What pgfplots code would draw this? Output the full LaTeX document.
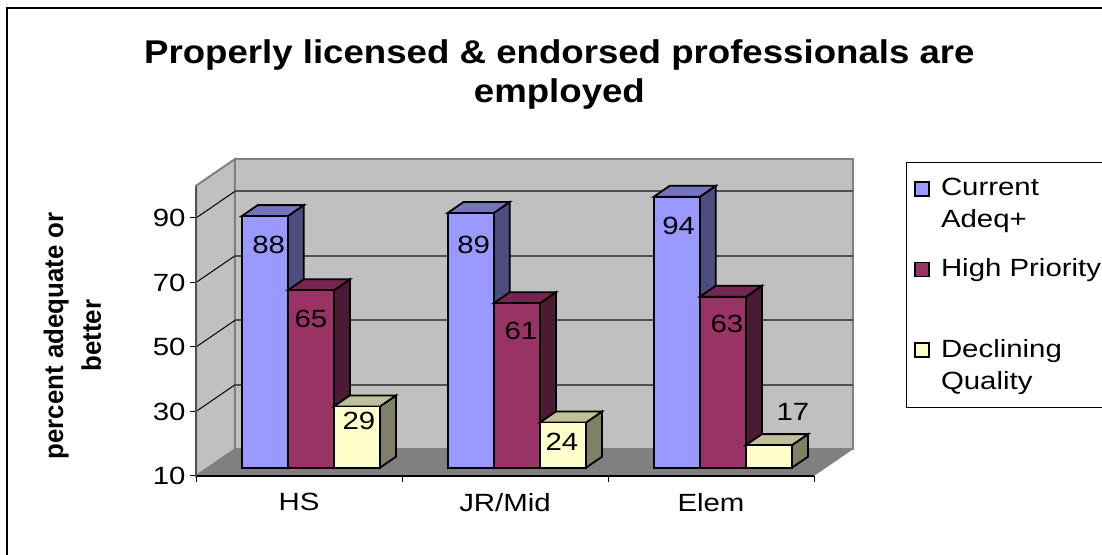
\documentclass[border=0pt]{standalone}
\usepackage{fontspec}
\setmainfont[FakeStretch=1.18]{Liberation Sans}
\newfontfamily\titlefont[FakeStretch=1.114]{Liberation Sans}
\newfontfamily\ylabfont[FakeStretch=0.96]{Liberation Sans}
\usepackage{pgfplots}
\pgfplotsset{compat=1.18}
\definecolor{wall}{HTML}{C0C0C0}
\definecolor{floorgray}{HTML}{808080}
\definecolor{gridgray}{HTML}{505050}
\definecolor{bluefront}{HTML}{9999FF}
\definecolor{bluetop}{HTML}{7373BF}
\definecolor{blueside}{HTML}{4D4D80}
\definecolor{maroonfront}{HTML}{993366}
\definecolor{maroontop}{HTML}{732650}
\definecolor{maroonside}{HTML}{4D1A33}
\definecolor{creamfront}{HTML}{FFFFCC}
\definecolor{creamtop}{HTML}{BFBF99}
\definecolor{creamside}{HTML}{808066}

% one 3D bar: category, series, value, colour, label dx (px), label drop (px)
\newcommand{\cube}[6]{%
  \pgfmathsetmacro\xa{#1+0.2218+#2*0.2238}%
  \pgfmathsetmacro\xb{\xa+0.2238}%
  \pgfmathsetmacro\xc{\xb+0.0777}%
  \pgfmathsetmacro\xd{\xa+0.0777}%
  \pgfmathsetmacro\ya{12.574}%
  \pgfmathsetmacro\yb{#3+2.574}%
  \pgfmathsetmacro\yc{\yb+3.41}%
  \pgfmathsetmacro\yd{\ya+3.41}%
  \pgfmathsetmacro\lx{\xa+0.1119+#5/206}%
  \pgfmathsetmacro\ly{\yb-#6/3.225}%
  \addplot[forget plot, edge, fill=#4side] coordinates {(\xb,\ya) (\xc,\yd) (\xc,\yc) (\xb,\yb)} -- cycle;
  \addplot[forget plot, edge, fill=#4top] coordinates {(\xa,\yb) (\xb,\yb) (\xc,\yc) (\xd,\yc)} -- cycle;
  \addplot[forget plot, edge, fill=#4front] coordinates {(\xa,\ya) (\xb,\ya) (\xb,\yb) (\xa,\yb)} -- cycle;
  \addplot[forget plot, draw=none, mark=none, nodes near coords={#3},
    nodes near coords style={anchor=center, font=\fontsize{25}{27}\selectfont, inner sep=0pt}]
    coordinates {(\lx,\ly)};
}
% gridline on the left wall and the back wall
\newcommand{\level}[1]{%
  \pgfmathsetmacro\yy{#1+8.28}%
  \addplot[forget plot, black, line width=1bp] coordinates {(0,#1) (0.1893,\yy)};
  \addplot[forget plot, gridgray, line width=1.6bp] coordinates {(0.1893,\yy) (3.1893,\yy)};
}
% the invisible path makes the legend row two lines tall
\newcommand{\swatch}[1]{%
  \addlegendimage{legend image code/.code={\path[draw=none, fill=none] (0bp,-46bp) rectangle (24bp,10bp);\draw[black, line width=1.6bp, fill=#1] (0bp,-8.5bp) rectangle (14bp,5.5bp);}}%
}

\begin{document}
\begin{tikzpicture}[x=1bp,y=1bp]
\draw[black, line width=2bp] (7,-10) -- (7,546.7) -- (1120,546.7);
\begin{axis}[
  at={(196bp,79bp)}, anchor=south west,
  scale only axis, width=618bp, height=290.25bp,
  xmin=0, xmax=3, ymin=10, ymax=100,
  clip=false, axis on top,
  axis x line=bottom, axis y line=left,
  axis line style={-, line width=1.4bp},
  y axis line style={draw=gridgray},
  tick align=outside, major tick length=6bp,
  tick style={black, line width=1bp},
  xtick={0,1,2,3}, xticklabels={},
  extra x ticks={0.5,1.5,2.5},
  extra x tick labels={HS,JR/Mid,Elem},
  extra x tick style={major tick length=0pt, tick style={draw=none}},
  ytick={10,30,50,70,90},
  tick label style={font=\fontsize{25}{27}\selectfont, /pgf/number format/assume math mode=true},
  xticklabel style={yshift=-14bp},
  yticklabel style={xshift=-1bp},
  title={Properly licensed \& endorsed professionals are\\employed},
  title style={at={(0.588,1.265)}, anchor=base, align=center, inner sep=0pt,
    font=\fontsize{33}{39.5}\titlefont\bfseries},
  ylabel={percent adequate or\\better},
  every axis y label/.style={at={(-0.2,0.483)}, rotate=90, anchor=center, align=center,
    font=\fontsize{27}{38}\ylabfont\bfseries},
  edge/.style={black, line width=1.8bp, line join=miter, mark=none},
  legend style={at={(1.1484,1.0808)}, anchor=north west, draw=black, line width=1bp,
    inner xsep=8bp, inner ysep=13bp, row sep=23bp,
    cells={anchor=base west, inner ysep=0pt},
    font=\fontsize{25}{32.5}\selectfont},
  legend cell align=left,
]
\swatch{bluefront}\addlegendentry{\parbox[t]{200bp}{Current\\Adeq+}}
\swatch{maroonfront}\addlegendentry{\parbox[t]{200bp}{High Priority\\~}}
\swatch{creamfront}\addlegendentry{\parbox[t]{200bp}{Declining\\Quality}}
% walls and floor
\addplot[forget plot, fill=wall, draw=floorgray, line width=2bp] coordinates {(0.1893,18.28) (3.1893,18.28) (3.1893,108.28) (0.1893,108.28)} -- cycle;
\addplot[forget plot, fill=wall, draw=floorgray, line width=2bp] coordinates {(0,10) (0.1893,18.28) (0.1893,108.28) (0,100)} -- cycle;
\addplot[forget plot, fill=floorgray, draw=none] coordinates {(0,10) (0.1893,18.28) (3.1893,18.28) (3,10)} -- cycle;
\level{30}
\level{50}
\level{70}
\level{90}
% bars: left to right so nearer faces overlap
\cube{0}{0}{88}{blue}{4}{29}
\cube{0}{1}{65}{maroon}{0}{29}
\cube{0}{2}{29}{cream}{2}{15}
\cube{1}{0}{89}{blue}{3}{32}
\cube{1}{1}{61}{maroon}{4}{28}
\cube{1}{2}{24}{cream}{-1}{19}
\cube{2}{0}{94}{blue}{2}{29}
\cube{2}{1}{63}{maroon}{4}{27}
\cube{2}{2}{17}{cream}{24}{-33}
\end{axis}
\pgfresetboundingbox
\path (0,0) rectangle (1102,555);
\end{tikzpicture}
\end{document}
